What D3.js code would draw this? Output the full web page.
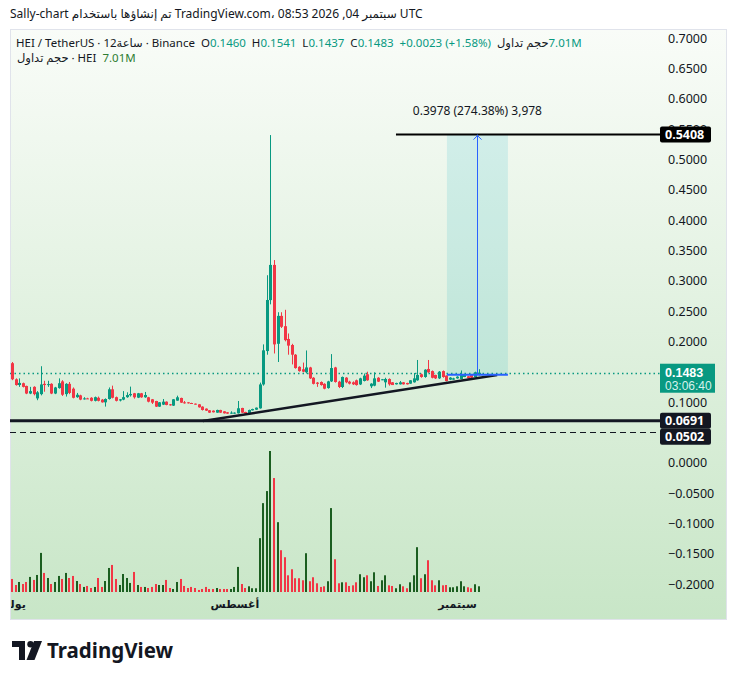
<!DOCTYPE html>
<html><head><meta charset="utf-8">
<script src="https://cdn.jsdelivr.net/npm/d3@7"></script>
<style>
body{margin:0;background:#fff;}
svg{display:block;font-family:"Noto Sans","DejaVu Sans",sans-serif;}
text{white-space:pre;}
</style>
</head><body>
<svg id="chart" width="735" height="680"></svg>
<script>
// ---------- DATA ----------
const openP = [
.164,.1375,.128,.131,.1265,.114,.125,.106,.113,.130,
.128,.130,.114,.123,.134,.113,.130,.122,.108,.111,
.1055,.106,.107,.102,.107,.104,.0995,.105,.121,.108,
.1025,.104,.108,.1111,.1144,.1072,.1144,.1078,.1078,.1045,
.1017,.0924,.0957,.1006,.0962,.0941,.1023,.1067,.0995,.0995,
.0984,.0973,.0962,.0924,.0891,.0864,.0858,.0825,.0869,.0847,
.0831,.0809,.0809,.0814,.0902,.0836,.0814,.0863,.0874,.0896,
.129,.184,.268,.326,.196,.242,.225,.204,.194,.178,
.158,.154,.149,.157,.140,.132,.133,.130,.123,.134,
.157,.1336,.1248,.1402,.1336,.1325,.1358,.129,.1347,.1457,
.1259,.127,.140,.1368,.1325,.138,.1325,.1292,.1292,.1325,
.1314,.1303,.1325,.1358,.1457,.1413,.1545,.151,.1446,.139,
.151,.1435,.1369,.1369,.139,.138,.1413,.1424,.1446,.1413,
.146];
const highP = [
.166,.139,.139,.132,.127,.125,.126,.118,.159,.135,
.135,.131,.125,.139,.136,.131,.133,.124,.115,.112,
.108,.107,.108,.109,.109,.105,.106,.124,.127,.109,
.105,.118,.116,.1254,.115,.115,.115,.1166,.1085,.105,
.102,.100,.105,.101,.0968,.105,.1105,.1072,.1017,.0998,
.0988,.0976,.0965,.093,.0895,.0868,.0862,.0874,.0872,.085,
.0835,.0847,.083,.1017,.0905,.084,.0875,.089,.091,.132,
.195,.309,.540,.334,.248,.248,.252,.213,.196,.179,
.159,.165,.185,.158,.141,.133,.134,.131,.135,.179,
.158,.135,.142,.141,.135,.134,.137,.140,.147,.150,
.131,.149,.141,.138,.140,.139,.133,.1318,.1347,.133,
.1318,.136,.1479,.1693,.147,.154,.1693,.152,.145,.151,
.152,.144,.141,.140,.1425,.152,.145,.143,.145,.150,
.1541];
const lowP = [
.136,.127,.125,.124,.113,.113,.111,.103,.111,.117,
.125,.113,.113,.122,.110,.109,.113,.106,.107,.103,
.104,.105,.101,.101,.101,.099,.0925,.104,.106,.101,
.101,.103,.107,.109,.1056,.1065,.107,.107,.0995,.0968,
.0918,.092,.095,.0946,.0941,.0935,.102,.0985,.0973,.0975,
.0968,.0958,.0908,.086,.0852,.082,.0828,.0822,.082,.081,
.0805,.0806,.0806,.081,.082,.0805,.0797,.086,.087,.089,
.127,.178,.261,.180,.166,.222,.200,.178,.162,.155,
.150,.149,.147,.138,.129,.125,.127,.121,.122,.133,
.132,.123,.123,.131,.129,.128,.127,.128,.134,.135,
.123,.126,.133,.136,.1237,.127,.128,.1288,.1288,.1288,
.1288,.130,.132,.135,.140,.140,.148,.139,.138,.138,
.140,.134,.136,.1365,.1385,.1375,.141,.1385,.1395,.141,
.1437];
const closeP = [
.1375,.128,.1315,.125,.114,.118,.113,.116,.129,.128,
.1295,.114,.124,.131,.112,.130,.115,.107,.112,.104,
.106,.1055,.102,.108,.102,.0995,.105,.121,.107,.102,
.1045,.108,.1115,.1133,.1078,.1144,.1078,.1116,.1006,.099,
.0924,.0995,.1006,.0952,.0946,.1045,.1078,.099,.099,.0979,
.0973,.0962,.0913,.0869,.0858,.0825,.0831,.0869,.0825,.0814,
.0809,.0825,.0825,.0897,.0825,.0809,.0869,.0885,.0907,.129,
.1852,.2682,.326,.195,.242,.224,.202,.193,.178,.156,
.151,.150,.157,.139,.130,.130,.128,.122,.134,.156,
.133,.1248,.1413,.1325,.1303,.1292,.128,.139,.1435,.1358,
.1303,.139,.1336,.1375,.138,.1292,.128,.1314,.1325,.1292,
.1292,.1358,.139,.1446,.1413,.1533,.149,.140,.139,.150,
.1413,.1347,.1402,.139,.1418,.1446,.1446,.139,.1402,.149,
.1483];
const volumeM = [
16.0,8.6,12.3,9.8,12.3,18.5,14.8,20.9,48.0,23.4,
17.2,9.8,12.3,19.7,16.0,23.4,17.2,19.7,13.5,9.8,
6.2,7.4,4.9,6.2,17.2,6.2,13.5,29.5,33.2,16.0,
8.6,22.1,17.2,11.1,24.6,8.6,6.2,6.2,4.9,6.2,
9.8,8.6,8.6,14.8,4.9,3.7,12.3,16.0,7.4,4.9,
6.2,4.9,2.5,3.7,6.2,3.7,3.7,4.9,3.7,3.7,
3.7,3.7,6.2,30.8,9.8,4.9,7.0,4.6,4.6,66.1,
109.1,123.9,173.1,139.9,85.7,51.3,42.7,20.5,27.9,16.9,
16.9,14.4,47.6,13.2,18.1,10.7,6.2,7.0,13.2,103.0,
40.2,10.7,11.9,11.9,7.4,8.2,11.9,21.8,18.1,20.5,
13.2,24.2,7.4,14.4,20.5,8.2,7.4,4.6,9.5,7.0,
4.6,11.9,20.5,55.0,16.9,21.8,39.0,14.4,8.2,14.4,
8.2,8.6,5.8,5.8,7.0,13.2,7.0,5.8,4.6,9.5,
7.01];
const priceTicks = [0.7,0.65,0.6,0.55,0.5,0.45,0.4,0.35,0.3,0.25,0.2,0.1,0,-0.05,-0.1,-0.15,-0.2];
const monthIndex = [0, 62, 124];
const monthLabels = ["يوليو", "أغسطس", "سبتمبر"];
const lastPrice = 0.1483;
const countdown = "03:06:40";
const levelHigh = {price: 0.5408, fromIndex: 107};
const levelSupport = 0.0691;
const levelDashed = 0.0502;
const trendPts = [{i: 53.2, p: 0.0688}, {i: 135.2, p: 0.1445}];
const measure = {i0: 121.2, i1: 138.2, iMid: 129.7, pFrom: 0.14498, pTo: 0.5408, label: "0.3978 (274.38%) 3,978"};

// ---------- SETUP ----------
const svg = d3.select("#chart");
const W = 735, H = 680;
const panel = {x: 10, y: 29, w: 716, h: 590};
const plotRight = 660;
const n = openP.length;

const x = d3.scaleLinear().domain([0, n - 1]).range([12, 478.5]);
const y = d3.scaleLinear().domain([0, 0.7]).range([462.7, 38]);
const yv = d3.scaleLinear().domain([0, d3.max(volumeM)]).range([592, 451]);

const defs = svg.append("defs");
const grad = defs.append("linearGradient").attr("id", "bg").attr("x1", 0).attr("y1", 0).attr("x2", 0).attr("y2", 1);
grad.append("stop").attr("offset", "0%").attr("stop-color", "#f9fcf8");
grad.append("stop").attr("offset", "100%").attr("stop-color", "#c8e6c7");
defs.append("clipPath").attr("id", "plotClip").append("rect")
  .attr("x", panel.x).attr("y", panel.y).attr("width", plotRight - panel.x).attr("height", panel.h);
defs.append("clipPath").attr("id", "panelClip").append("rect")
  .attr("x", panel.x + 1).attr("y", panel.y).attr("width", panel.w - 2).attr("height", panel.h);

svg.append("rect").attr("width", W).attr("height", H).attr("fill", "#fff");
svg.append("rect").attr("x", panel.x + 0.5).attr("y", panel.y + 0.5).attr("width", panel.w).attr("height", panel.h)
  .attr("fill", "url(#bg)").attr("stroke", "#e0e3eb");

function row(g, yPos, x0, segs, size) {
  let cx = x0;
  segs.forEach(s => {
    const t = g.append("text").attr("x", cx).attr("y", yPos).attr("font-size", size)
      .attr("fill", s.c || "#131722").attr("font-weight", s.w || 400).text(s.t);
    cx += t.node().getComputedTextLength() + (s.g || 0);
  });
}
const titleG = svg.append("g");
row(titleG, 18, 10, [
  {t: "Sally-chart "}, {t: "تم إنشاؤها باستخدام"}, {t: " TradingView.com، 08:53 2026 ,04 "}, {t: "سبتمبر"}, {t: " UTC"}
], 12);

const plot = svg.append("g").attr("clip-path", "url(#plotClip)");

plot.append("rect")
  .attr("x", x(measure.i0)).attr("y", y(measure.pTo))
  .attr("width", x(measure.i1) - x(measure.i0)).attr("height", y(measure.pFrom) - y(measure.pTo))
  .attr("fill", "rgba(0,172,193,0.13)");

const idx = d3.range(n);
const up = i => closeP[i] >= openP[i];
plot.append("g").selectAll("rect").data(idx).join("rect")
  .attr("x", i => Math.round(x(i)) - 1).attr("width", 2)
  .attr("y", i => yv(volumeM[i])).attr("height", i => yv(0) - yv(volumeM[i]))
  .attr("fill", i => up(i) ? "#1b5e20" : "#f23645");

plot.append("line").attr("x1", panel.x).attr("x2", plotRight)
  .attr("y1", Math.round(y(lastPrice)) + 0.5).attr("y2", Math.round(y(lastPrice)) + 0.5)
  .attr("stroke", "#089981").attr("stroke-width", 1.5).attr("stroke-dasharray", "1.5 3");

const cg = plot.append("g");
cg.selectAll("line").data(idx).join("line")
  .attr("x1", i => Math.round(x(i)) + 0.5).attr("x2", i => Math.round(x(i)) + 0.5)
  .attr("y1", i => y(highP[i])).attr("y2", i => y(lowP[i]))
  .attr("stroke", i => up(i) ? "#089981" : "#f23645").attr("stroke-width", 1);
cg.selectAll("rect").data(idx).join("rect")
  .attr("x", i => Math.round(x(i)) - 1).attr("width", 3)
  .attr("y", i => y(Math.max(openP[i], closeP[i])))
  .attr("height", i => Math.max(1, Math.abs(y(openP[i]) - y(closeP[i]))))
  .attr("fill", i => up(i) ? "#089981" : "#f23645");

plot.append("line").attr("x1", x(levelHigh.fromIndex)).attr("x2", plotRight)
  .attr("y1", y(levelHigh.price)).attr("y2", y(levelHigh.price))
  .attr("stroke", "#000").attr("stroke-width", 2);
plot.append("line").attr("x1", panel.x).attr("x2", plotRight)
  .attr("y1", y(levelSupport)).attr("y2", y(levelSupport))
  .attr("stroke", "#131722").attr("stroke-width", 3);
plot.append("line").attr("x1", panel.x).attr("x2", plotRight)
  .attr("y1", Math.round(y(levelDashed)) + 0.5).attr("y2", Math.round(y(levelDashed)) + 0.5)
  .attr("stroke", "#131722").attr("stroke-width", 1).attr("stroke-dasharray", "6 4");

plot.append("line")
  .attr("x1", x(trendPts[0].i)).attr("y1", y(trendPts[0].p))
  .attr("x2", x(trendPts[1].i)).attr("y2", y(trendPts[1].p))
  .attr("stroke", "#131722").attr("stroke-width", 2.5);

const mx = Math.round(x(measure.iMid)) + 0.5;
plot.append("line").attr("x1", x(measure.i0)).attr("x2", x(measure.i1))
  .attr("y1", y(measure.pFrom)).attr("y2", y(measure.pFrom))
  .attr("stroke", "#2962ff").attr("stroke-width", 2);
plot.append("line").attr("x1", mx).attr("x2", mx)
  .attr("y1", y(measure.pFrom)).attr("y2", y(measure.pTo))
  .attr("stroke", "#2962ff").attr("stroke-width", 1);
plot.append("path")
  .attr("d", `M${mx - 4},${y(measure.pTo) + 5}L${mx},${y(measure.pTo) + 1}L${mx + 4},${y(measure.pTo) + 5}`)
  .attr("fill", "none").attr("stroke", "#2962ff").attr("stroke-width", 1);
svg.append("text").attr("x", x(measure.iMid)).attr("y", y(measure.pTo) - 20)
  .attr("text-anchor", "middle").attr("font-size", 12).attr("fill", "#131722").text(measure.label);

const axisG = svg.append("g").attr("transform", `translate(${plotRight + 4},0)`)
  .call(d3.axisRight(y).tickValues(priceTicks).tickSize(0).tickPadding(4)
    .tickFormat(d => (d < 0 ? "−" : "") + Math.abs(d).toFixed(4)));
axisG.select(".domain").remove();
axisG.selectAll("text").attr("font-size", 12.5).attr("fill", "#131722")
  .attr("font-family", "\"Noto Sans\",\"DejaVu Sans\",sans-serif");

function box(price, fill, label, dy, h) {
  const cy = y(price) + (dy || 0);
  const g = svg.append("g");
  g.append("rect").attr("x", plotRight).attr("y", cy - (h || 16) / 2).attr("width", 51).attr("height", h || 16)
    .attr("rx", 2).attr("fill", fill);
  g.append("text").attr("x", plotRight + 5).attr("y", cy).attr("dy", "0.35em").attr("font-size", 12.5)
    .attr("font-weight", 700).attr("fill", "#fff").text(label);
  return cy;
}
box(levelHigh.price, "#000", levelHigh.price.toFixed(4));
{
  const cy = y(lastPrice);
  const g = svg.append("g").attr("font-family", "\"Liberation Sans\",Arial,sans-serif");
  g.append("rect").attr("x", plotRight).attr("y", cy - 9).attr("width", 55).attr("height", 29).attr("fill", "#089981");
  g.append("text").attr("x", plotRight + 5).attr("y", cy + 4.5).attr("font-size", 12.5)
    .attr("font-weight", 700).attr("fill", "#fff").text(lastPrice.toFixed(4));
  g.append("text").attr("x", plotRight + 5).attr("y", cy + 17.5).attr("font-size", 12)
    .attr("fill", "#d6f2ec").text(countdown);
}
const c1 = box(levelSupport, "#131722", levelSupport.toFixed(4));
const shift = Math.max(0, (c1 + 16) - y(levelDashed));
box(levelDashed, "#131722", levelDashed.toFixed(4), shift);

// time axis (clip applied on an untransformed wrapper)
const tWrap = svg.append("g").attr("clip-path", "url(#panelClip)");
tWrap.append("g").attr("transform", "translate(0,597)")
  .call(d3.axisBottom(x).tickValues(monthIndex).tickSize(0).tickPadding(3)
    .tickFormat((d, k) => monthLabels[k]))
  .call(g => g.select(".domain").remove())
  .selectAll("text").attr("font-size", 11).attr("font-weight", 700).attr("fill", "#131722")
  .attr("font-family", "\"DejaVu Sans\",sans-serif");

const hg = svg.append("g");
const G = "#089981";
row(hg, 47, 16, [
  {t: "HEI / TetherUS · 12"}, {t: "ساعة"}, {t: " · Binance  "},
  {t: "O"}, {t: "0.1460", c: G}, {t: "  H"}, {t: "0.1541", c: G}, {t: "  L"}, {t: "0.1437", c: G},
  {t: "  C"}, {t: "0.1483", c: G}, {t: "  +0.0023 (+1.58%)  ", c: G}, {t: "حجم تداول"}, {t: "7.01M", c: G}
], 11.5);
row(hg, 62, 17, [
  {t: "حجم تداول"}, {t: " · HEI  "}, {t: "7.01M", c: "#2e7d32"}
], 11.5);

const logo = svg.append("g").attr("transform", "translate(12,641)");
logo.append("path").attr("d", "M0,0H13V19H7V6H0Z").attr("fill", "#131722");
logo.append("circle").attr("cx", 18.5).attr("cy", 3.2).attr("r", 3.2).attr("fill", "#131722");
logo.append("path").attr("d", "M22,0H30L22.5,19H14.5Z").attr("fill", "#131722");
svg.append("text").attr("x", 47).attr("y", 658).attr("font-size", 20.5).attr("font-weight", 700)
  .attr("fill", "#131722").attr("font-family", "\"Noto Sans\",\"DejaVu Sans\",sans-serif").text("TradingView");
</script>
</body></html>
